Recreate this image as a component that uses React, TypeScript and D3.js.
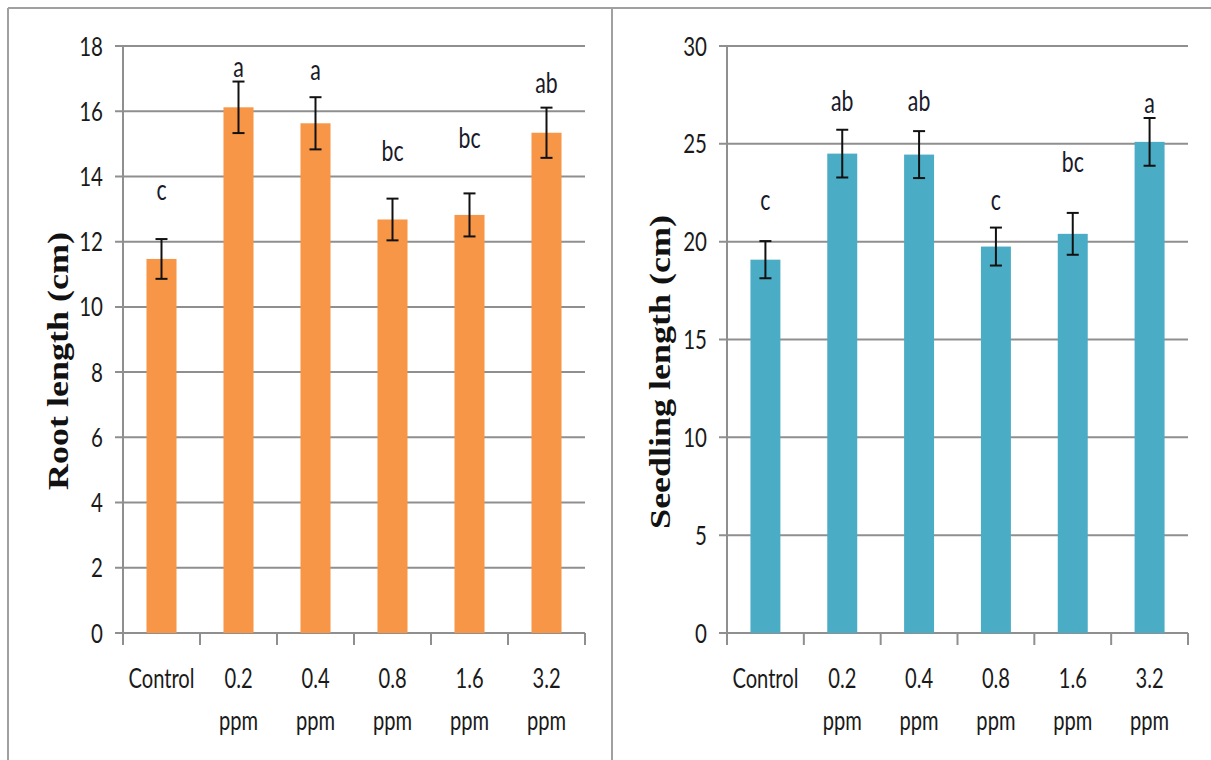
import React from "react";
import * as d3 from "d3";

const categories = ["Control", "0.2 ppm", "0.4 ppm", "0.8 ppm", "1.6 ppm", "3.2 ppm"];

const rootLength = [11.47, 16.12, 15.63, 12.68, 12.82, 15.34];
const rootError = [0.61, 0.79, 0.8, 0.64, 0.66, 0.77];
const rootLetters = ["c", "a", "a", "bc", "bc", "ab"];
const rootLetterLevel = [13.28, 17.05, 16.96, 14.47, 14.87, 16.56];
const rootTicks = [0, 2, 4, 6, 8, 10, 12, 14, 16, 18];

const seedlingLength = [19.08, 24.5, 24.45, 19.75, 20.4, 25.1];
const seedlingError = [0.95, 1.22, 1.2, 0.97, 1.07, 1.22];
const seedlingLetters = ["c", "ab", "ab", "c", "bc", "a"];
const seedlingLetterLevel = [21.6, 26.7, 26.7, 21.6, 23.56, 26.57];
const seedlingTicks = [0, 5, 10, 15, 20, 25, 30];

const SANS = "Lato, 'Liberation Sans', Arial, sans-serif";
const SERIF = "'Liberation Serif', 'Times New Roman', serif";
const SX = 0.76;
const GRID = "#8f8f8f";

type PanelProps = {
  left: number;
  right: number;
  top: number;
  bottom: number;
  ticks: number[];
  values: number[];
  errors: number[];
  letters: string[];
  letterLevels: number[];
  color: string;
  title: string;
  titleX: number;
  titleY: number;
};

function Panel(p: PanelProps) {
  const max = p.ticks[p.ticks.length - 1];
  const y = d3.scaleLinear().domain([0, max]).range([p.bottom, p.top]);
  const x = d3.scaleBand<string>().domain(categories).range([p.left, p.right]).padding(0);
  const step = x.step();
  const barW = step * 0.39;
  const capW = 12;
  const boundaries = d3.range(categories.length + 1).map((i) => p.left + i * step);

  return (
    <g>
      {p.ticks.map((t) => (
        <g key={"g" + t}>
          <line x1={p.left - 8} x2={p.right} y1={y(t)} y2={y(t)} stroke={GRID} strokeWidth={2} />
          <text
            transform={`translate(${p.left - 20},${y(t) + 9.5}) scale(${SX},1)`}
            textAnchor="end"
            fontFamily={SANS}
            fontSize={27}
            fill="#1a1a1a"
          >
            {t}
          </text>
        </g>
      ))}
      <line x1={p.left} x2={p.left} y1={p.top} y2={p.bottom} stroke={GRID} strokeWidth={2} />
      {boundaries.map((bx, i) => (
        <line key={"xt" + i} x1={bx} x2={bx} y1={p.bottom} y2={p.bottom + 12} stroke={GRID} strokeWidth={2} />
      ))}
      {categories.map((c, i) => {
        const cx = (x(c) as number) + step / 2;
        return (
          <rect key={"b" + c} x={cx - barW / 2} y={y(p.values[i])} width={barW} height={y(0) - y(p.values[i])} fill={p.color} />
        );
      })}
      {categories.map((c, i) => {
        const cx = (x(c) as number) + step / 2;
        const hi = y(p.values[i] + p.errors[i]);
        const lo = y(p.values[i] - p.errors[i]);
        return (
          <g key={"e" + c} stroke="#111" strokeWidth={2}>
            <line x1={cx} x2={cx} y1={hi} y2={lo} />
            <line x1={cx - capW / 2} x2={cx + capW / 2} y1={hi} y2={hi} />
            <line x1={cx - capW / 2} x2={cx + capW / 2} y1={lo} y2={lo} />
          </g>
        );
      })}
      {categories.map((c, i) => {
        const cx = (x(c) as number) + step / 2;
        return (
          <text
            key={"l" + c}
            transform={`translate(${cx},${y(p.letterLevels[i])}) scale(${SX},1)`}
            textAnchor="middle"
            fontFamily={SANS}
            fontSize={28}
            fill="#1a1a2a"
          >
            {p.letters[i]}
          </text>
        );
      })}
      {categories.map((c) => {
        const cx = (x(c) as number) + step / 2;
        const parts = c.split(" ");
        return (
          <g key={"c" + c}>
            {parts.map((part, j) => (
              <text
                key={j}
                transform={`translate(${cx},${p.bottom + 55 + j * 42}) scale(${SX},1)`}
                textAnchor="middle"
                fontFamily={SANS}
                fontSize={26.5}
                fill="#1a1a1a"
              >
                {part}
              </text>
            ))}
          </g>
        );
      })}
      <text
        transform={`translate(${p.titleX},${p.titleY}) scale(0.8,1) rotate(-90)`}
        textAnchor="middle"
        fontFamily={SERIF}
        fontWeight="bold"
        fontSize={36}
        fill="#111"
      >
        {p.title}
      </text>
    </g>
  );
}

export default function App() {
  return (
    <svg
      width={1211}
      height={760}
      style={{ position: "absolute", left: 0, top: 0, background: "#fff" }}
    >
      <rect x={0} y={0} width={1211} height={760} fill="#fff" />
      <line x1={8} x2={1211} y1={8} y2={8} stroke="#a0a0a0" strokeWidth={2} />
      <line x1={8} x2={8} y1={8} y2={760} stroke="#a0a0a0" strokeWidth={2} />
      <line x1={612} x2={612} y1={8} y2={760} stroke="#a0a0a0" strokeWidth={2} />
      <Panel
        left={123}
        right={585}
        top={46}
        bottom={633}
        ticks={rootTicks}
        values={rootLength}
        errors={rootError}
        letters={rootLetters}
        letterLevels={rootLetterLevel}
        color="#F79646"
        title="Root length (cm)"
        titleX={68}
        titleY={361}
      />
      <Panel
        left={727}
        right={1188}
        top={46}
        bottom={633}
        ticks={seedlingTicks}
        values={seedlingLength}
        errors={seedlingError}
        letters={seedlingLetters}
        letterLevels={seedlingLetterLevel}
        color="#4BACC6"
        title="Seedling length (cm)"
        titleX={670}
        titleY={372}
      />
    </svg>
  );
}
